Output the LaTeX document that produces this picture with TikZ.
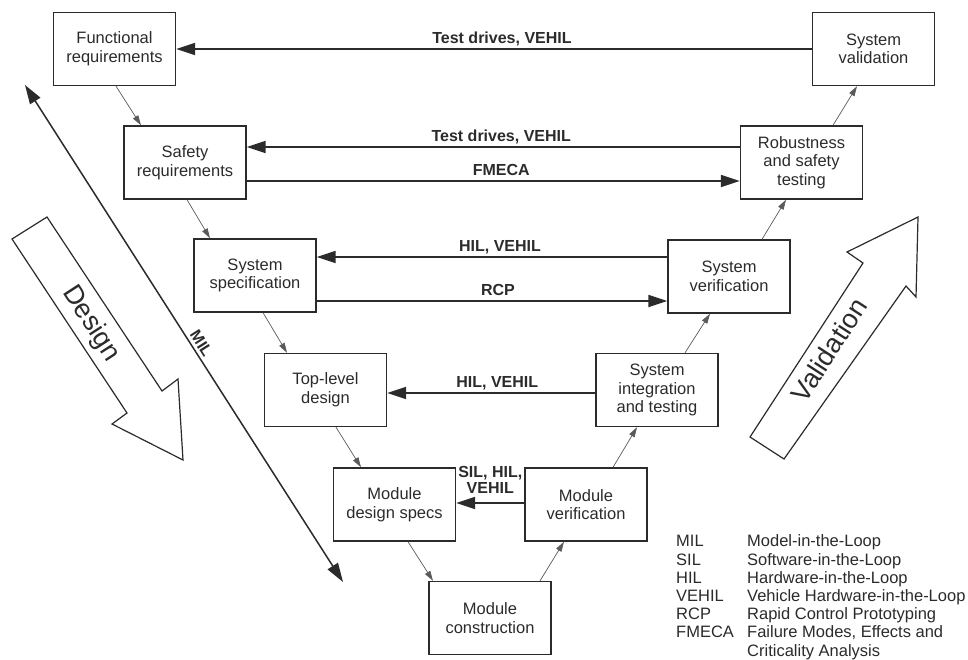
\documentclass[tikz,border=0pt]{standalone}
\usepackage{fontspec}
\setmainfont{Liberation Sans}
\usetikzlibrary{arrows.meta}
\definecolor{ink}{HTML}{2B2B2B}
\definecolor{thin}{HTML}{5A5A5A}
\begin{document}
\begin{tikzpicture}[x=1pt,y=-1pt,
  box/.style={draw=ink, line width=1.4pt, minimum width=122pt, minimum height=73pt,
    inner sep=0pt, align=center, text=ink, font=\fontsize{16.5}{18.6}\selectfont},
  bigarrow/.style={draw=ink, line width=1.8pt, -{Triangle[length=19pt,width=12pt]}},
  milarrow/.style={draw=ink, line width=1.5pt,
    {Triangle[length=19pt,width=12pt]}-{Triangle[length=19pt,width=12pt]}},
  flow/.style={draw=thin, line width=0.7pt, -{Triangle[length=10pt,width=6pt]}},
  lbl/.style={font=\fontsize{16}{16}\selectfont\bfseries, text=ink, inner sep=0pt,
    anchor=base, yshift=6pt, xshift=8pt},
  bigshape/.style={draw=ink, line width=1.2pt, fill=white, line join=miter},
  bigtext/.style={font=\fontsize{27}{27}\selectfont, text=ink, inner sep=0pt},
]
\useasboundingbox (0,0) rectangle (968,659);

% big hollow arrows
\draw[bigshape] (12,239) -- (47,217) -- (162,391) -- (178,379) -- (183,460)
  -- (112,424) -- (127,413) -- cycle;
\node[bigtext, rotate=-57] (design) at (91,324) {Design};
\draw[bigshape] (750,437) -- (784,459) -- (906,286) -- (916,297) -- (918,217)
  -- (847,252) -- (863,263) -- cycle;
\node[bigtext, rotate=57] (validation) at (829,350) {Validation};

% boxes
\node[box] (fr)  at (114.5,49)  {Functional\\requirements};
\node[box] (sr)  at (185,162.5) {Safety\\requirements};
\node[box] (ss)  at (255,275.5) {System\\specification};
\node[box] (tl)  at (325.5,390) {Top-level\\design};
\node[box] (md)  at (394.5,504.5) {Module\\design specs};
\node[box] (mc)  at (490,618)   {Module\\construction};
\node[box] (mv)  at (586,504.5) {Module\\verification};
\node[box] (si)  at (657,390)   {System\\integration\\and testing};
\node[box] (sv)  at (729,276.5) {System\\verification};
\node[box] (rs)  at (801.5,162.5) {Robustness\\and safety\\testing};
\node[box] (val) at (873.5,49)  {System\\validation};

% thin flow arrows (V shape)
\draw[flow] (fr.south -| 116,0) -- (sr.north -| 141,0);
\draw[flow] (sr.south -| 187,0) -- (ss.north -| 210,0);
\draw[flow] (ss.south -| 263,0) -- (tl.north -| 287,0);
\draw[flow] (tl.south -| 336,0) -- (md.north -| 361,0);
\draw[flow] (md.south -| 408,0) -- (mc.north -| 433,0);
\draw[flow] (mc.north -| 540,0) -- (mv.south -| 564,0);
\draw[flow] (mv.north -| 613,0) -- (si.south -| 637,0);
\draw[flow] (si.north -| 685,0) -- (sv.south -| 710,0);
\draw[flow] (sv.north -| 762,0) -- (rs.south -| 786,0);
\draw[flow] (rs.north -| 833,0) -- (val.south -| 857,0);

% horizontal test arrows
\draw[bigarrow] (val.west) -- (fr.east) node[lbl, midway] {Test drives, VEHIL};
\draw[bigarrow] (rs.west |- 0,147) -- (sr.east |- 0,147) node[lbl, midway] {Test drives, VEHIL};
\draw[bigarrow] (sr.east |- 0,181) -- (rs.west |- 0,181) node[lbl, midway] {FMECA};
\draw[bigarrow] (sv.west |- 0,257) -- (ss.east |- 0,257) node[lbl, midway] {HIL, VEHIL};
\draw[bigarrow] (ss.east |- 0,301) -- (sv.west |- 0,301) node[lbl, midway, xshift=-2pt] {RCP};
\draw[bigarrow] (si.west |- 0,393) -- (tl.east |- 0,393) node[lbl, midway, xshift=-2pt] {HIL, VEHIL};
\draw[bigarrow] (mv.west |- 0,503) -- (md.east |- 0,503)
  node[lbl, midway, anchor=south, align=center, xshift=-8pt, yshift=3pt,
       font=\fontsize{16}{16}\selectfont\bfseries] {SIL, HIL,\\VEHIL};

% MIL arrow
\coordinate (milA) at (25,85);
\coordinate (milB) at (343,582);
\draw[milarrow] (milA) -- (milB)
  node[pos=0.53, sloped, above, inner sep=3pt, text=ink,
       font=\fontsize{16}{16}\selectfont\bfseries] {MIL};

% legend
\node[anchor=north west, inner sep=0pt, text=ink] (legend) at (676,534) {%
  \fontsize{16.5}{18.2}\selectfont
  \begin{tabular}{@{}p{71pt}@{}l@{}}
  MIL & Model-in-the-Loop\\
  SIL & Software-in-the-Loop\\
  HIL & Hardware-in-the-Loop\\
  VEHIL & Vehicle Hardware-in-the-Loop\\
  RCP & Rapid Control Prototyping\\
  FMECA & Failure Modes, Effects and\\
        & Criticality Analysis
  \end{tabular}};
\end{tikzpicture}
\end{document}
